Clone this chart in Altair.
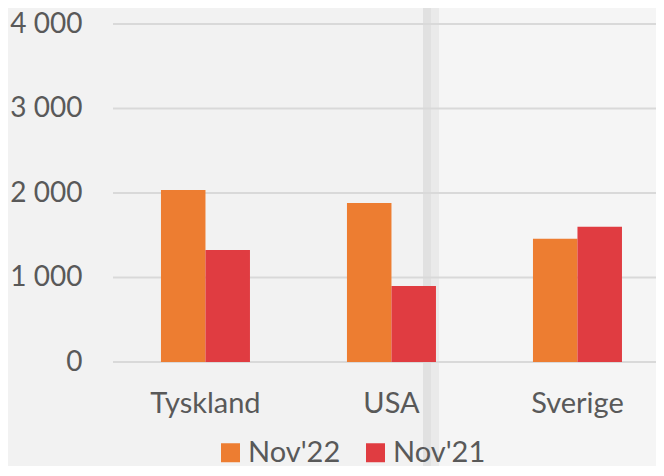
import altair as alt
import pandas as pd

categories = ["Tyskland", "USA", "Sverige"]
series = ["Nov'22", "Nov'21"]
nov22 = [2035, 1882, 1460]
nov21 = [1325, 900, 1600]
y_ticks = [0, 1000, 2000, 3000, 4000]
colors = ["#ED7D31", "#E03C41"]

rows = []
for c, a, b in zip(categories, nov22, nov21):
    rows.append({"land": c, "serie": series[0], "value": a})
    rows.append({"land": c, "serie": series[1], "value": b})
df = pd.DataFrame(rows)
grid_df = pd.DataFrame({"v": y_ticks})

FONT = "Lato"
TXT = "#595959"
W, H = 543, 338

yscale = alt.Scale(domain=[0, 4000], nice=False, zero=True)

# decorative shadow strip (screenshot artefact in reference)
one = pd.DataFrame({"a": [0]})
strip_dark = alt.Chart(one).mark_rect(color="#E1E1E1").encode(
    x=alt.value(310), x2=alt.value(318), y=alt.value(-30), y2=alt.value(H + 140)
)
strip_mid = alt.Chart(one).mark_rect(color="#EAEAEA").encode(
    x=alt.value(318), x2=alt.value(326), y=alt.value(-30), y2=alt.value(H + 140)
)
strip_light = alt.Chart(one).mark_rect(color="#F5F5F5").encode(
    x=alt.value(326), x2=alt.value(W + 10), y=alt.value(-30), y2=alt.value(H + 140)
)

grid = alt.Chart(grid_df).mark_rule(color="#D9D9D9", strokeWidth=2).encode(
    y=alt.Y("v:Q", scale=yscale, axis=alt.Axis(
        values=y_ticks, grid=False, domain=False, ticks=False, zindex=1,
        labelExpr="replace(format(datum.value, ','), ',', ' ')",
        labelFont=FONT, labelFontSize=28, labelColor=TXT, labelPadding=31,
        title=None)),
)

bars = alt.Chart(df).mark_bar().encode(
    x=alt.X("land:N", sort=categories, scale=alt.Scale(
        paddingInner=0.5215, paddingOuter=0.2204, align=0.585),
        axis=alt.Axis(title=None, labelAngle=0, domain=False, ticks=False, grid=False,
                      zindex=1, labelFont=FONT, labelFontSize=29, labelColor=TXT,
                      labelPadding=27)),
    xOffset=alt.XOffset("serie:N", sort=series,
                        scale=alt.Scale(paddingInner=0, paddingOuter=0)),
    y=alt.Y("value:Q", scale=yscale),
    color=alt.Color("serie:N", sort=series,
                    scale=alt.Scale(domain=series, range=colors),
                    legend=alt.Legend(title=None, orient="none", direction="horizontal",
                                      legendX=103, legendY=414, zindex=1,
                                      symbolType="square", symbolSize=361,
                                      symbolStrokeWidth=0, symbolOpacity=1,
                                      labelFont=FONT, labelFontSize=29, labelColor=TXT,
                                      labelOffset=3, columnPadding=20)),
)

chart = alt.layer(strip_light, strip_dark, strip_mid, grid, bars).properties(
    width=W, height=H,
    autosize=alt.AutoSizeParams(type="none"),
    padding={"left": 105, "top": 16, "right": 0, "bottom": 104},
    background="#F2F2F2",
).configure_view(stroke=None)

chart.save("out.html", embed_options={"renderer": "svg", "actions": False})
